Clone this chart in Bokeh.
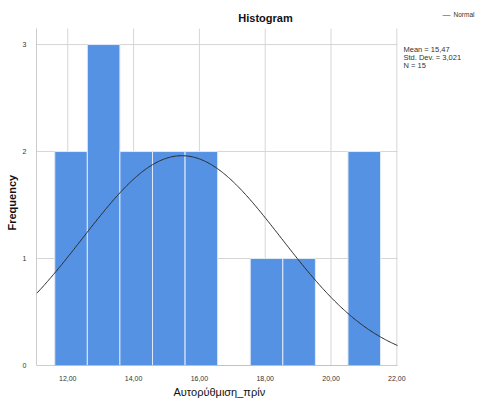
import numpy as np
from bokeh.plotting import figure
from bokeh.models import ColumnDataSource, FixedTicker, Label, Title
from bokeh.embed import file_html
from bokeh.resources import INLINE

# Data
bin_centers = [12.10, 13.09, 14.08, 15.07, 16.06, 17.05, 18.04, 19.03, 20.02, 21.01]
counts = [2, 3, 2, 2, 2, 0, 1, 1, 0, 2]
bin_width = 0.99
mean_val = 15.47
std_val = 3.021
n_val = 15
x_ticks = [12, 14, 16, 18, 20, 22]
x_tick_labels = ["12,00", "14,00", "16,00", "18,00", "20,00", "22,00"]
y_ticks = [0, 1, 2, 3]

FONT = "Liberation Sans Narrow, Liberation Sans, Arial, sans-serif"
W, H = 478, 408
FL, FB = 36, 365          # frame left / bottom (canvas px)
PLOT_R, PLOT_T = 397, 28  # visible plot-area right / top (canvas px)
X0, X1 = 11.05, 22.02     # visible plot-area x span
Y0, Y1 = 0.0, 3.15        # visible plot-area y span

# frame extends to canvas right/top so that side texts can be drawn inside it
xpx = (PLOT_R - FL) / (X1 - X0)
ypx = (FB - PLOT_T) / (Y1 - Y0)
x_end = X1 + (W - PLOT_R) / xpx
y_end = Y1 + PLOT_T / ypx


def lab(cx, cy, text, **kw):
    return Label(x=cx - FL, y=FB - cy, x_units="screen", y_units="screen", text=text, **kw)


p = figure(width=W, height=H, x_range=(X0, x_end), y_range=(Y0, y_end),
           output_backend="svg", toolbar_location=None,
           min_border_left=FL, min_border_right=0, min_border_top=0, min_border_bottom=H - FB)
p.outline_line_color = None
p.background_fill_color = "white"
p.xgrid.visible = False
p.ygrid.visible = False

GRID = "#d6d6d6"
# grid lines limited to the plot area
p.segment(x0=x_ticks, y0=[Y0] * len(x_ticks), x1=x_ticks, y1=[Y1] * len(x_ticks),
          line_color=GRID, line_width=1)
p.segment(x0=[X0] * 3, y0=y_ticks[1:], x1=[X1] * 3, y1=y_ticks[1:], line_color=GRID, line_width=1)

src = ColumnDataSource(dict(x=bin_centers, top=counts))
p.vbar(x="x", top="top", width=bin_width, bottom=0, source=src,
       fill_color="#5592E3", line_color="#dfe9f7", line_width=1)

# Normal curve from the stated mean / sd / N
xs = np.linspace(X0, X1, 300)
ys = n_val * bin_width / (std_val * np.sqrt(2 * np.pi)) * np.exp(-0.5 * ((xs - mean_val) / std_val) ** 2)
p.line(xs, ys, line_color="#2b2b2b", line_width=1)

# axis lines limited to the plot area
AX = "#9a9a9a"
p.segment(x0=[X0, X0], y0=[Y0, Y0], x1=[X1, X0], y1=[Y0, Y1], line_color=AX, line_width=1)

# axes (ticks / labels)
p.xaxis.ticker = FixedTicker(ticks=x_ticks)
p.xaxis.major_label_overrides = {t: l for t, l in zip(x_ticks, x_tick_labels)}
p.yaxis.ticker = FixedTicker(ticks=y_ticks)
for ax in (p.xaxis[0], p.yaxis[0]):
    ax.axis_line_color = None
    ax.major_tick_line_color = None
    ax.minor_tick_line_color = None
    ax.major_label_text_font = FONT
    ax.major_label_text_font_size = "7px"
    ax.major_label_text_color = "#333333"
p.xaxis.major_label_standoff = 4
p.yaxis.major_label_standoff = 4

# axis titles as side-panel titles
p.add_layout(Title(text="Αυτορύθμιση_πρίν", align="left", offset=173 - FL, standoff=1,
                   text_font="Liberation Sans, Arial, sans-serif", text_font_size="11px",
                   text_font_style="normal", text_color="#111111"), "below")
p.add_layout(Title(text="Frequency", align="left", offset=FB - 230, standoff=3,
                   text_font="Liberation Sans, Arial, sans-serif", text_font_size="11px",
                   text_font_style="bold", text_color="#111111"), "left")

# chart title
p.add_layout(lab(265, 17, "Histogram",
                 text_font=FONT, text_font_size="11px", text_font_style="bold",
                 text_align="center", text_baseline="middle", text_color="#111111"))

# legend
p.add_layout(lab(442, 14, "—", text_font_size="8px", text_align="left",
                 text_baseline="middle", text_color="#333333"))
p.add_layout(lab(453, 14, "Normal", text_font=FONT, text_font_size="6.5px", text_align="left",
                 text_baseline="middle", text_color="#333333"))

stats = ["Mean = " + f"{mean_val:.2f}".replace(".", ","),
         "Std. Dev. = " + f"{std_val:.3f}".replace(".", ","),
         f"N = {n_val}"]
for i, s in enumerate(stats):
    p.add_layout(lab(403, 49 + 8 * i, s, text_font=FONT, text_font_size="7.5px",
                     text_align="left", text_baseline="middle", text_color="#333333"))

open("out.html", "w").write(file_html(p, INLINE))
